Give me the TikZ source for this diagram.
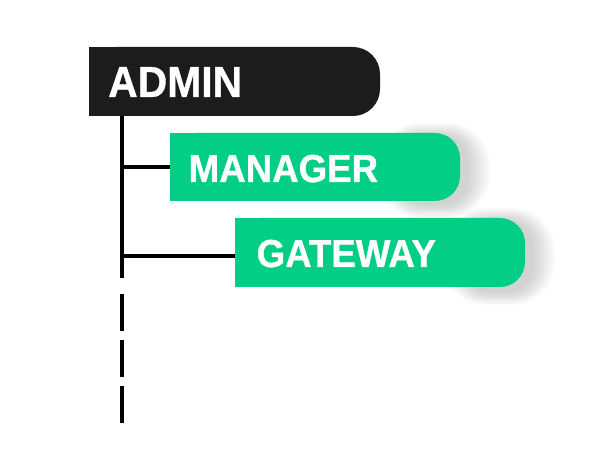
\documentclass[tikz,border=0pt]{standalone}
\usepackage{fontspec}
\usetikzlibrary{calc}
\newfontfamily\lblfont[FakeStretch=0.94,FakeBold=0.8]{Liberation Sans}
\definecolor{tabgreen}{RGB}{2,206,134}
\definecolor{tabblack}{RGB}{28,28,28}
\tikzset{
  boxarea/.style={rectangle, inner sep=0pt, draw=none},
  lbl/.style={anchor=base west, inner sep=0pt, text=white, font=\lblfont\bfseries},
  trunk/.style={line width=4pt, draw=black},
}
\begin{document}
\begin{tikzpicture}[x=1pt,y=-1pt]
\useasboundingbox (0,0) rectangle (613,470);
% soft shadows at the right ends of the green tabs
\foreach \i in {0,2,...,22}{
  \fill[black, opacity=0.014, rounded corners={25+0.8*\i}] ({400-\i},{136-0.6*\i}) rectangle ({468+\i},{205+0.6*\i});
  \fill[black, opacity=0.014, rounded corners={25+0.8*\i}] ({465-\i},{221-0.6*\i}) rectangle ({533+\i},{292+0.6*\i});
}
% ADMIN tab
\fill[tabblack, rounded corners=27] (89,47) rectangle (380,116);
\fill[tabblack] (89,47) rectangle (200,116);
\node[boxarea, minimum width=291pt, minimum height=69pt] (admin) at (234.5,81.5) {};
% MANAGER tab
\fill[tabgreen, rounded corners=25] (170,133) rectangle (460,201);
\fill[tabgreen] (170,133) rectangle (300,201);
\node[boxarea, minimum width=290pt, minimum height=68pt] (manager) at (315,167) {};
% GATEWAY tab
\fill[tabgreen, rounded corners=25] (235,218) rectangle (525,287);
\fill[tabgreen] (235,218) rectangle (360,287);
\node[boxarea, minimum width=290pt, minimum height=69pt] (gateway) at (380,252.5) {};
% labels
\node[lbl, font=\fontsize{43.5}{48}\lblfont\bfseries] (adminlbl) at (108,97) {ADMIN};
\node[lbl, font=\fontsize{39}{44}\lblfont\bfseries] (managerlbl) at (188.5,182) {MANAGER};
\node[lbl, font=\fontsize{39}{44}\lblfont\bfseries] (gatewaylbl) at (256.5,267) {GATEWAY};
% connectors
\coordinate (t0) at (122,116);
\coordinate (t1) at (122,278);
\coordinate (d0) at (122,294);
\coordinate (d1) at (122,423);
\draw[trunk] (t0) -- (t1);
\draw[trunk] (t0 |- manager.west) -- (manager.west);
\draw[trunk] ($(t0 |- gateway.west)+(0,4)$) -- ($(gateway.west)+(0,4)$);
\draw[trunk, dash pattern=on 37pt off 9pt] (d0) -- (d1);
\end{tikzpicture}
\end{document}
